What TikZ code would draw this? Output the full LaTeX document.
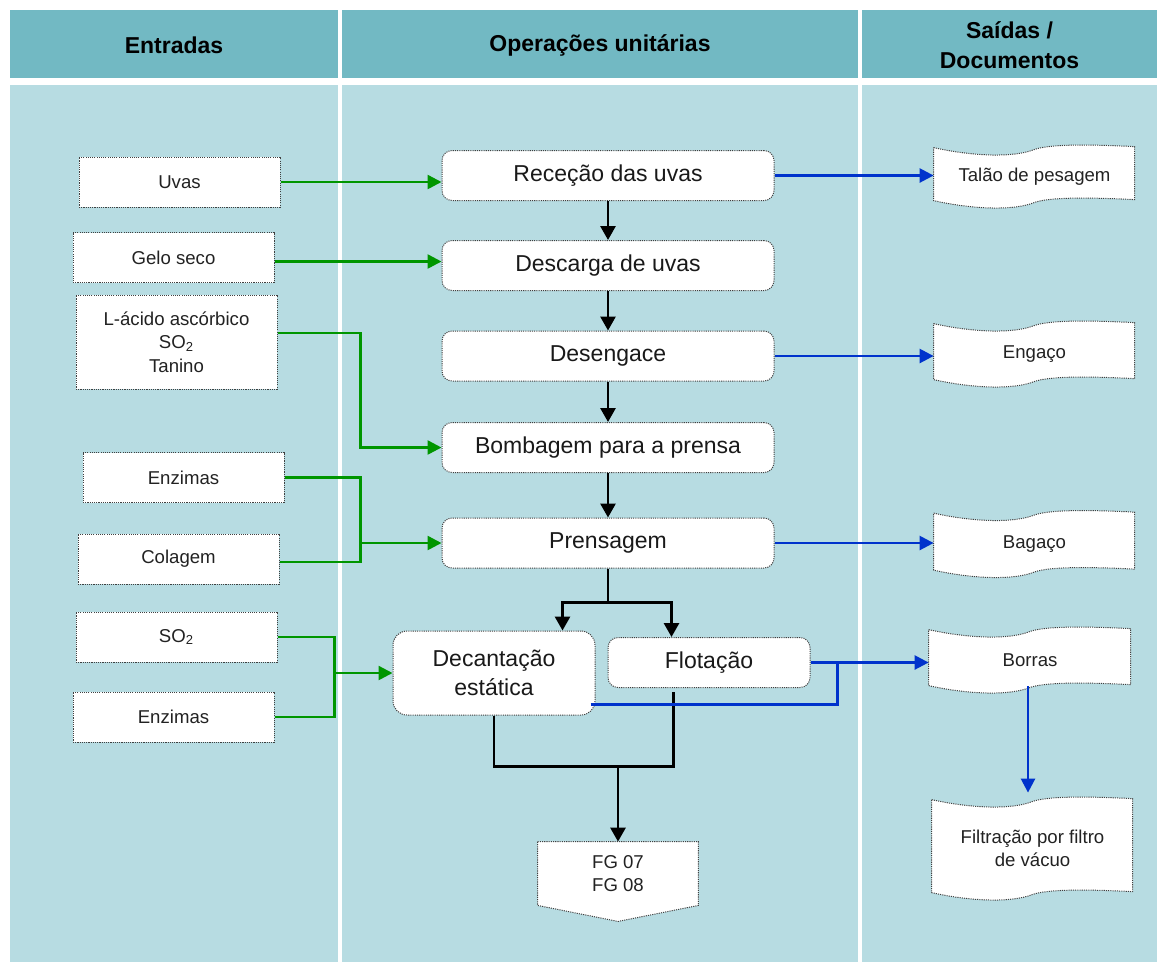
\documentclass[tikz,border=0pt]{standalone}
\usepackage{fontspec}
\setmainfont{Liberation Sans}
\usetikzlibrary{calc,arrows.meta}
\pgfdeclarelayer{lanes}
\pgfdeclarelayer{docs}
\pgfsetlayers{lanes,docs,main}

\definecolor{headfill}{RGB}{114,185,195}
\definecolor{lanefill}{RGB}{183,220,226}
\definecolor{flowgreen}{RGB}{0,150,0}
\definecolor{flowblue}{RGB}{0,51,204}
\definecolor{textgray}{RGB}{34,34,34}

% wavy "document" outline drawn behind a text node: name, width, height (px units)
\newcommand\docshape[3]{%
  \begin{pgfonlayer}{docs}
  \begin{scope}[shift={(#1.north west)}]
    \filldraw[dotline, fill=white]
      (0,3) .. controls (0.2*#2,12) and (0.4*#2,13) .. (0.5*#2,5)
            .. controls (0.58*#2,-1) and (0.8*#2,0) .. (#2,2)
      -- (#2,#3-8) .. controls (0.8*#2,#3-10) and (0.58*#2,#3-11) .. (0.5*#2,#3-5)
            .. controls (0.4*#2,#3+3) and (0.2*#2,#3+2) .. (0,#3-7)
      -- cycle;
  \end{scope}
  \end{pgfonlayer}}

\tikzset{
  dotline/.style={draw=black!75, line width=0.5pt, dash pattern=on 0.55pt off 0.55pt},
  headtxt/.style={font=\bfseries\fontsize{11.5}{15}\selectfont, align=center, text=black},
  inbox/.style={dotline, fill=white, minimum width=100.5pt, minimum height=25pt,
    inner sep=1pt, align=center, text=textgray, font=\fontsize{9.3}{11.7}\selectfont},
  opbox/.style={dotline, fill=white, rounded corners=5pt, minimum width=166pt,
    minimum height=25pt, inner sep=1pt, align=center, text=black!90,
    font=\fontsize{11.5}{14.2}\selectfont},
  docbox/.style={minimum width=100.5pt, inner sep=1pt, align=center, text=textgray,
    font=\fontsize{9.3}{11.7}\selectfont},
  kline/.style={draw=black, line width=1.4pt},
  karrow/.style={kline, -{Triangle[length=7pt,width=7.5pt]}},
  gline/.style={draw=flowgreen, line width=1.25pt},
  garrow/.style={gline, -{Triangle[length=7pt,width=7pt]}},
  bline/.style={draw=flowblue, line width=1.25pt},
  barrow/.style={bline, -{Triangle[length=7pt,width=7pt]}},
}

\begin{document}
\begin{tikzpicture}[x=0.5pt,y=-0.5pt]
\useasboundingbox (0,0) rectangle (1165,966);

% swim lanes
\begin{pgfonlayer}{lanes}
  \fill[white] (0,0) rectangle (1165,966);
  \fill[headfill] (10,10) rectangle (338,78);
  \fill[headfill] (342,10) rectangle (858,78);
  \fill[headfill] (862,10) rectangle (1157,78);
  \fill[lanefill] (10,85) rectangle (338,962);
  \fill[lanefill] (342,85) rectangle (858,962);
  \fill[lanefill] (862,85) rectangle (1157,962);
\end{pgfonlayer}

\node[headtxt] (hin)  at (174,45)    {Entradas};
\node[headtxt] (hop)  at (600,45)    {Operações unitárias};
\node[headtxt] (hout) at (1009.5,45) {Saídas /\\Documentos};

% inputs
\node[inbox] (uvas)    at (179.5,182)  {Uvas};
\node[inbox] (gelo)    at (173.5,257.5) {Gelo seco};
\node[inbox, minimum height=47pt] (acido) at (176.5,342) {L-ácido ascórbico\\SO\textsubscript{2}\\Tanino};
\node[inbox] (enz1)    at (183.5,477.5) {Enzimas};
\node[inbox] (colagem) at (178.5,559)  {Colagem};
\node[inbox] (so2)     at (176.5,637)  {SO\textsubscript{2}};
\node[inbox] (enz2)    at (173.5,717)  {Enzimas};

% unit operations
\node[opbox] (rec)    at (608,175.5) {Receção das uvas};
\node[opbox] (desc)   at (608,265.5) {Descarga de uvas};
\node[opbox] (deseng) at (608,356)   {Desengace};
\node[opbox] (bomb)   at (608,447.5) {Bombagem para a prensa};
\node[opbox] (prens)  at (608,543)   {Prensagem};
\node[opbox, minimum width=101pt, minimum height=42pt, rounded corners=7pt] (decant) at (494,673) {Decantação\\estática};
\node[opbox, minimum width=101pt] (flot) at (709,662.5) {Flotação};

% outputs / documents
\node[docbox, minimum height=31.5pt] (talao)  at (1034.5,176.5) {Talão de pesagem};
\node[docbox, minimum height=33pt]   (engaco) at (1034.5,354)   {Engaço};
\node[docbox, minimum height=33.5pt] (bagaco) at (1034.5,544)   {Bagaço};
\node[docbox, minimum height=33pt, minimum width=101pt] (borras) at (1030,660) {Borras};
\node[docbox, minimum height=51.5pt] (filtr)  at (1032.5,848.5) {Filtração por filtro\\de vácuo};
\docshape{talao}{201}{63}
\docshape{engaco}{201}{66}
\docshape{bagaco}{201}{67}
\docshape{borras}{202}{66}
\docshape{filtr}{201}{103}

% off-page connector
\node[docbox, minimum width=80pt, minimum height=31.5pt] (fg) at (618,873.5) {FG 07\\FG 08};
\begin{pgfonlayer}{docs}
  \filldraw[dotline, fill=white] (fg.north west) -- (fg.north east) -- (fg.south east)
    -- ($(fg.south)+(0,16)$) -- (fg.south west) -- cycle;
\end{pgfonlayer}

% main flow
\draw[karrow] (rec.south) -- (desc.north);
\draw[karrow] (desc.south) -- (deseng.north);
\draw[karrow] (deseng.south) -- (bomb.north);
\draw[karrow] (bomb.south) -- (prens.north);
\coordinate (split) at ($(prens.south)+(0,34)$);
\draw[kline] (prens.south) -- (split);
\draw[karrow] (split) -| ($(decant.north east)+(-33,0)$);
\draw[karrow] (split) -| ($(flot.north west)+(64,0)$);
\coordinate (merge) at ($(fg.north)+(0,-75)$);
\draw[kline] (decant.south) |- (merge);
\draw[kline] ($(flot.south west)+(66,4)$) |- (merge);
\draw[karrow] (merge) -- (fg.north);

% inputs into the operations
\draw[garrow] (uvas.east) -- (uvas.east -| rec.west);
\coordinate (gm) at ($(gelo.east)!.5!(desc.west)$);
\draw[garrow] (gelo.east |- gm) -- (desc.west |- gm);
\coordinate (j1) at ($(bomb.west)+(-81,0)$);
\draw[garrow] ($(acido.east)+(0,-9)$) -| (j1) -- (bomb.west);
\coordinate (j2) at ($(prens.west)+(-81,0)$);
\draw[gline] (enz1.east) -| (j2);
\draw[gline] ($(colagem.east)+(0,3)$) -| (j2);
\draw[garrow] (j2) -- (prens.west);
\coordinate (j3) at ($(decant.west)+(-58,0)$);
\draw[gline] (so2.east) -| (j3);
\draw[gline] (enz2.east) -| (j3);
\draw[garrow] (j3) -- (decant.west);

% outputs
\draw[barrow] (rec.east) -- (rec.east -| talao.west);
\draw[barrow] (deseng.east) -- (deseng.east -| engaco.west);
\draw[barrow] (prens.east) -- (prens.east -| bagaco.west);
\draw[barrow] (flot.east) -- (flot.east -| borras.west);
\coordinate (j4) at ($(flot.east)+(27,0)$);
\draw[bline] ($(decant.south east)+(-5,-11)$) -| (j4);
\draw[barrow] ($(borras.south)+(-2,-7)$) -- ($(filtr.north)+(-4.5,-4)$);
\end{tikzpicture}
\end{document}
